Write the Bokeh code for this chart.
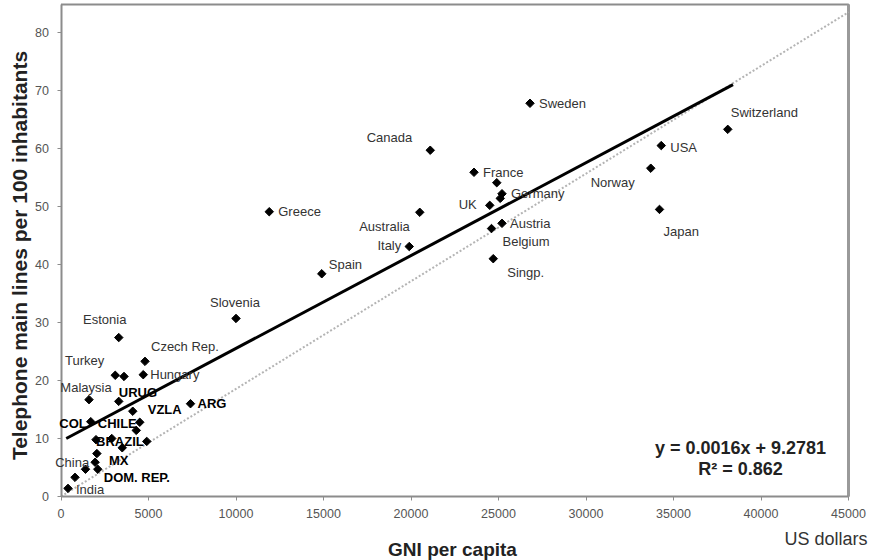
from bokeh.plotting import figure
from bokeh.models import ColumnDataSource, Label, LabelSet, FixedTicker, Range1d
from bokeh.core.properties import value
from bokeh.embed import file_html
from bokeh.resources import INLINE

# ---------------- data ----------------
countries = ["Sweden", "Canada", "France", "", "Germany", "", "UK", "Australia",
             "Italy", "Austria", "Belgium", "Singp.", "Greece", "Spain",
             "Switzerland", "USA", "Norway", "Japan", "Slovenia", "Estonia",
             "Czech Rep.", "Turkey", "", "Hungary", "Malaysia", "URUG", "VZLA",
             "ARG", "COL", "CHILE", "", "", "", "", "BRAZIL", "MX", "China", "",
             "DOM. REP.", "", "India"]
gni_per_capita = [26800, 21100, 23600, 24900, 25200, 25100, 24500, 20500,
                  19900, 25200, 24600, 24700, 11900, 14900,
                  38100, 34300, 33700, 34200, 10000, 3300,
                  4800, 3100, 3600, 4700, 1600, 3300, 4100,
                  7400, 1700, 4500, 4300, 2000, 2900, 3500, 4900, 2050, 1950, 1400,
                  2100, 800, 400]
lines_per_100 = [67.8, 59.7, 55.9, 54.1, 52.2, 51.4, 50.2, 49.0,
                 43.1, 47.1, 46.2, 41.0, 49.1, 38.4,
                 63.3, 60.5, 56.6, 49.5, 30.7, 27.4,
                 23.3, 20.9, 20.7, 21.0, 16.7, 16.4, 14.7,
                 16.0, 12.9, 12.8, 11.4, 9.8, 10.0, 8.4, 9.5, 7.4, 5.9, 4.7,
                 4.7, 3.3, 1.4]

fit_x = [300, 38400]
fit_y = [10.0, 71.0]
diag_x = [0, 45000]
diag_y = [0, 83.5]

x_ticks = [0, 5000, 10000, 15000, 20000, 25000, 30000, 35000, 40000, 45000]
x_tick_labels = ["0", "5000", "10000", "15000", "20000", "25000", "30000",
                 "35000", "40000", "45000"]
y_ticks = [0, 10, 20, 30, 40, 50, 60, 70, 80]
y_tick_labels = ["0", "10", "20", "30", "40", "50", "60", "70", "80"]

equation = "y = 0.0016x + 9.2781"
r_squared = "R\u00b2 = 0.862"
x_title = "GNI per capita"
x_unit = "US dollars"
y_title = "Telephone main lines per 100 inhabitants"

# ---------------- layout / style ----------------
FONT = "Liberation Sans"
W, H = 874, 560
X0_PX, PX_PER_X = 60.5, 17.5 / 1000.0      # x = 0 at 60.5 px
Y0_PX, PX_PER_Y = 496.0, 5.8               # y = 0 at 496 px
X_MAX = x_ticks[-1]
Y_TOP = (Y0_PX - 4) / PX_PER_Y             # top border of the plot box


def px_to_x(px):
    return (px - X0_PX) / PX_PER_X


def px_to_y(py):
    return (Y0_PX - py) / PX_PER_Y


bold_names = {"URUG", "VZLA", "ARG", "COL", "CHILE", "BRAZIL", "MX", "DOM. REP."}
# (dx right, dy down, align) in screen pixels
label_layout = {
    "Sweden": (9, 0, "left"), "Canada": (-18, -13, "right"),
    "France": (9, 0, "left"), "Germany": (9, 0, "left"),
    "UK": (-13, -1, "right"), "Australia": (-10, 14, "right"),
    "Italy": (-8, -1, "right"), "Austria": (8, 0, "left"),
    "Belgium": (11, 13, "left"), "Singp.": (14, 14, "left"),
    "Greece": (9, 0, "left"), "Spain": (7, -9, "left"),
    "Switzerland": (3, -17, "left"), "USA": (9, 2, "left"),
    "Norway": (-16, 14, "right"), "Japan": (4, 22, "left"),
    "Slovenia": (-1, -16, "center"), "Estonia": (-14, -18, "center"),
    "Czech Rep.": (6, -15, "left"), "Turkey": (-11, -15, "right"),
    "Hungary": (7, 0, "left"), "Malaysia": (-3, -12, "center"),
    "URUG": (0, -9, "left"), "VZLA": (15, -2, "left"),
    "ARG": (7, 0, "left"), "COL": (-4, 2, "right"),
    "CHILE": (-3, 1, "right"), "BRAZIL": (-3, 0, "right"),
    "MX": (12, 7, "left"), "China": (-6, 0, "right"),
    "DOM. REP.": (6, 8, "left"), "India": (8, 1, "left"),
}

dx, dy, al, st, col = [], [], [], [], []
for name in countries:
    a, b, c = label_layout.get(name, (0, 0, "left"))
    dx.append(a); dy.append(-b); al.append(c)
    st.append("bold" if name in bold_names else "normal")
    col.append("#000000" if name in bold_names else "#333333")

src = ColumnDataSource(dict(x=gni_per_capita, y=lines_per_100, label=countries,
                            dx=dx, dy=dy, align=al, style=st, color=col))

p = figure(width=W, height=H,
           x_range=Range1d(px_to_x(0), px_to_x(W)),
           y_range=Range1d(px_to_y(H), px_to_y(0)),
           output_backend="svg", toolbar_location=None,
           min_border_left=0, min_border_right=0, min_border_top=0, min_border_bottom=0)
p.background_fill_color = "white"
p.border_fill_color = "white"
p.outline_line_color = None
p.xgrid.grid_line_color = None
p.ygrid.grid_line_color = None

# plot box (top and right edges)
p.line([0, X_MAX, X_MAX], [Y_TOP, Y_TOP, 0], line_color="#8c8c8c", line_width=2)
p.line([X_MAX, X_MAX], [0, Y_TOP], line_color="#9a9a9a", line_width=3)

# lines
p.line(diag_x, diag_y, line_color="#b4b4b4", line_width=2, line_dash="2 2")
p.line(fit_x, fit_y, line_color="black", line_width=3)

# points + labels
p.scatter("x", "y", source=src, marker="square", angle=0.785398, size=6, color="black")
p.add_layout(LabelSet(x="x", y="y", text="label", x_offset="dx", y_offset="dy",
                      text_align="align", text_baseline="middle", text_font=value(FONT),
                      text_font_size="13px", text_font_style="style",
                      text_color="color", source=src))

# axes, fixed at the origin
for ax, ticks, labels, bnds in ((p.xaxis[0], x_ticks, x_tick_labels, (0, X_MAX)),
                                (p.yaxis[0], y_ticks, y_tick_labels, (0, Y_TOP))):
    ax.fixed_location = 0
    ax.bounds = bnds
    ax.ticker = FixedTicker(ticks=ticks)
    ax.major_label_overrides = {t: l for t, l in zip(ticks, labels)}
    ax.axis_line_color = "#8c8c8c"
    ax.axis_line_width = 2
    ax.major_tick_line_color = "#8c8c8c"
    ax.major_tick_out = 4
    ax.major_tick_in = 0
    ax.minor_tick_line_color = None
    ax.major_label_text_font = FONT
    ax.major_label_text_font_size = "12.5px"
    ax.major_label_text_color = "#555555"
    ax.major_label_standoff = 8

# axis titles and regression text
p.add_layout(Label(x=px_to_x(19), y=px_to_y(255), text=y_title, angle=1.5708,
                   text_align="center", text_baseline="middle", text_font=FONT,
                   text_font_size="21px", text_font_style="bold", text_color="#222222"))
p.add_layout(Label(x=px_to_x(452), y=px_to_y(549), text=x_title,
                   text_align="center", text_baseline="middle", text_font=FONT,
                   text_font_size="19px", text_font_style="bold", text_color="#222222"))
p.add_layout(Label(x=px_to_x(867), y=px_to_y(538), text=x_unit,
                   text_align="right", text_baseline="middle", text_font=FONT,
                   text_font_size="18px", text_color="#333333"))
p.add_layout(Label(x=px_to_x(740), y=px_to_y(447), text=equation, text_align="center",
                   text_baseline="middle", text_font=FONT, text_font_size="18px",
                   text_font_style="bold", text_color="#222222"))
p.add_layout(Label(x=px_to_x(740), y=px_to_y(468), text=r_squared, text_align="center",
                   text_baseline="middle", text_font=FONT, text_font_size="18px",
                   text_font_style="bold", text_color="#222222"))

open("out.html", "w").write(file_html(p, INLINE))
